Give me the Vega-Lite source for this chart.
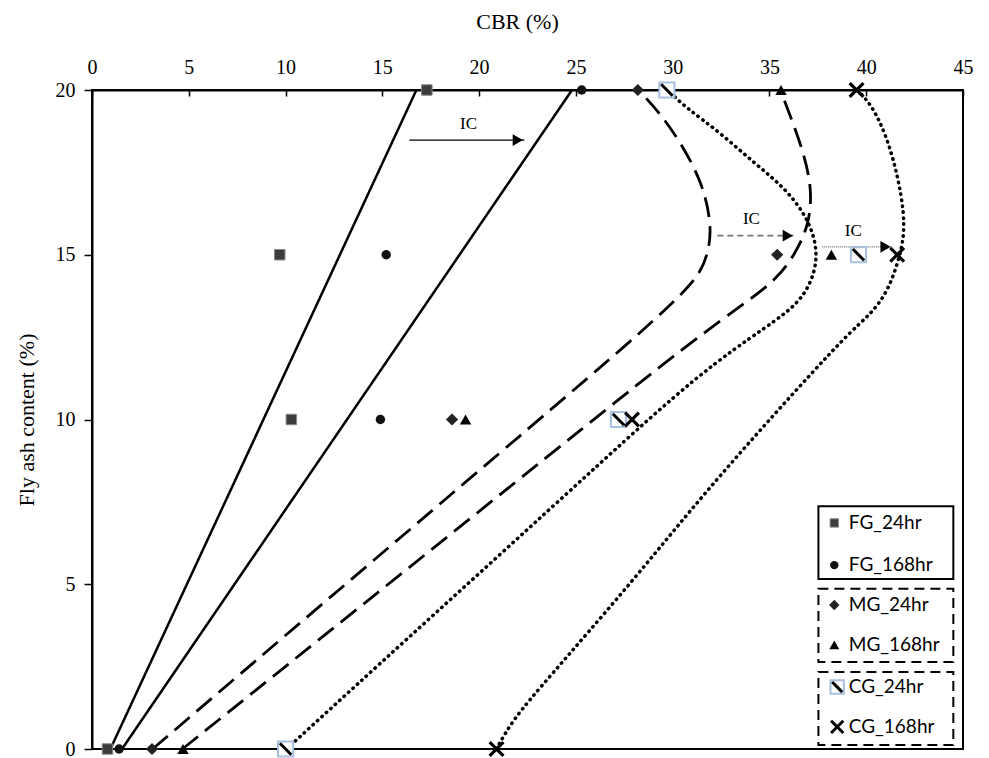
{
  "$schema": "https://vega.github.io/schema/vega-lite/v6.json",
  "width": 871,
  "height": 659,
  "autosize": {"type": "none"},
  "padding": {"left": 92, "top": 90, "right": 26, "bottom": 9},
  "background": "white",
  "config": {
    "view": {"stroke": "black", "strokeWidth": 2},
    "axis": {
      "labelFont": "Liberation Serif",
      "labelFontSize": 20,
      "labelColor": "black",
      "titleFont": "Liberation Serif",
      "titleFontSize": 22,
      "titleFontWeight": "normal",
      "titleColor": "black",
      "domainColor": "black",
      "domainWidth": 2,
      "tickColor": "black",
      "tickWidth": 1.5,
      "grid": false
    }
  },
  "datasets": {
    "points": [
      {"s": "FG_24", "x": 0.8, "y": 0}, {"s": "FG_24", "x": 10.3, "y": 10}, {"s": "FG_24", "x": 9.7, "y": 15}, {"s": "FG_24", "x": 17.3, "y": 20},
      {"s": "FG_168", "x": 1.4, "y": 0}, {"s": "FG_168", "x": 14.9, "y": 10}, {"s": "FG_168", "x": 15.2, "y": 15}, {"s": "FG_168", "x": 25.3, "y": 20},
      {"s": "MG_24", "x": 3.1, "y": 0}, {"s": "MG_24", "x": 18.6, "y": 10}, {"s": "MG_24", "x": 35.4, "y": 15}, {"s": "MG_24", "x": 28.2, "y": 20},
      {"s": "MG_168", "x": 4.7, "y": 0}, {"s": "MG_168", "x": 19.3, "y": 10}, {"s": "MG_168", "x": 38.2, "y": 15}, {"s": "MG_168", "x": 35.6, "y": 20},
      {"s": "CG_24", "x": 10.0, "y": 0}, {"s": "CG_24", "x": 27.2, "y": 10}, {"s": "CG_24", "x": 39.6, "y": 15}, {"s": "CG_24", "x": 29.7, "y": 20},
      {"s": "CG_168", "x": 20.9, "y": 0}, {"s": "CG_168", "x": 27.9, "y": 10}, {"s": "CG_168", "x": 41.6, "y": 15}, {"s": "CG_168", "x": 39.5, "y": 20}
    ],
    "curves": [
      {"s": "FG_24", "i": 0, "x": 0.95, "y": 0}, {"s": "FG_24", "i": 1, "x": 16.76, "y": 20},
      {"s": "FG_168", "i": 0, "x": 1.55, "y": 0}, {"s": "FG_168", "i": 1, "x": 24.8, "y": 20},
      {"s": "MG_24", "i": 0, "x": 3.13, "y": 0}, {"s": "MG_24", "i": 1, "x": 8.1, "y": 2.5}, {"s": "MG_24", "i": 2, "x": 15.5, "y": 6.2},
      {"s": "MG_24", "i": 3, "x": 22.9, "y": 9.9}, {"s": "MG_24", "i": 4, "x": 27.92, "y": 12.41}, {"s": "MG_24", "i": 5, "x": 30.45, "y": 13.78},
      {"s": "MG_24", "i": 6, "x": 31.5, "y": 14.48}, {"s": "MG_24", "i": 7, "x": 31.95, "y": 15.3}, {"s": "MG_24", "i": 8, "x": 31.95, "y": 16.12},
      {"s": "MG_24", "i": 9, "x": 31.5, "y": 17.21}, {"s": "MG_24", "i": 10, "x": 30.5, "y": 18.33}, {"s": "MG_24", "i": 11, "x": 29.31, "y": 19.33},
      {"s": "MG_24", "i": 12, "x": 28.23, "y": 20},
      {"s": "MG_168", "i": 0, "x": 4.67, "y": 0}, {"s": "MG_168", "i": 1, "x": 9.9, "y": 2.46}, {"s": "MG_168", "i": 2, "x": 17.77, "y": 6.16},
      {"s": "MG_168", "i": 3, "x": 25.6, "y": 9.85}, {"s": "MG_168", "i": 4, "x": 30.86, "y": 12.32},
      {"s": "MG_168", "i": 5, "x": 34.12, "y": 13.69}, {"s": "MG_168", "i": 6, "x": 35.4, "y": 14.29}, {"s": "MG_168", "i": 7, "x": 36.3, "y": 14.99},
      {"s": "MG_168", "i": 8, "x": 37.05, "y": 15.9}, {"s": "MG_168", "i": 9, "x": 37.2, "y": 16.97}, {"s": "MG_168", "i": 10, "x": 36.8, "y": 18.03},
      {"s": "MG_168", "i": 11, "x": 36.2, "y": 19.03}, {"s": "MG_168", "i": 12, "x": 35.56, "y": 20},
      {"s": "CG_24", "i": 0, "x": 10.05, "y": 0}, {"s": "CG_24", "i": 1, "x": 14.7, "y": 2.5}, {"s": "CG_24", "i": 2, "x": 20.7, "y": 5.7},
      {"s": "CG_24", "i": 3, "x": 26.3, "y": 8.7}, {"s": "CG_24", "i": 4, "x": 31.38, "y": 11.41},
      {"s": "CG_24", "i": 5, "x": 34.99, "y": 12.87}, {"s": "CG_24", "i": 6, "x": 36.4, "y": 13.47}, {"s": "CG_24", "i": 7, "x": 37.2, "y": 14.17},
      {"s": "CG_24", "i": 8, "x": 37.55, "y": 15.08}, {"s": "CG_24", "i": 9, "x": 37.0, "y": 16.12}, {"s": "CG_24", "i": 10, "x": 35.75, "y": 17.06},
      {"s": "CG_24", "i": 11, "x": 34.22, "y": 17.78}, {"s": "CG_24", "i": 12, "x": 32.41, "y": 18.73}, {"s": "CG_24", "i": 13, "x": 30.71, "y": 19.45},
      {"s": "CG_24", "i": 14, "x": 29.73, "y": 20},
      {"s": "CG_168", "i": 0, "x": 20.89, "y": 0}, {"s": "CG_168", "i": 1, "x": 21.75, "y": 0.9}, {"s": "CG_168", "i": 2, "x": 23.5, "y": 2.1},
      {"s": "CG_168", "i": 3, "x": 27.8, "y": 5.0}, {"s": "CG_168", "i": 4, "x": 31.4, "y": 7.6}, {"s": "CG_168", "i": 5, "x": 35.3, "y": 10.2},
      {"s": "CG_168", "i": 6, "x": 39.13, "y": 12.66},
      {"s": "CG_168", "i": 7, "x": 40.2, "y": 13.17}, {"s": "CG_168", "i": 8, "x": 41.1, "y": 13.87}, {"s": "CG_168", "i": 9, "x": 41.65, "y": 14.78},
      {"s": "CG_168", "i": 10, "x": 41.95, "y": 15.51}, {"s": "CG_168", "i": 11, "x": 41.95, "y": 16.3}, {"s": "CG_168", "i": 12, "x": 41.65, "y": 17.33},
      {"s": "CG_168", "i": 13, "x": 41.1, "y": 18.54}, {"s": "CG_168", "i": 14, "x": 40.3, "y": 19.54}, {"s": "CG_168", "i": 15, "x": 39.54, "y": 20}
    ],
    "arrows": [
      {"a": "FG", "x": 16.4, "x2": 22.34, "y": 18.48, "hx": 22.0, "tx": 19.45, "ty": 18.7},
      {"a": "MG", "x": 32.31, "x2": 36.29, "y": 15.58, "hx": 35.95, "tx": 34.07, "ty": 15.8},
      {"a": "CG", "x": 37.73, "x2": 41.34, "y": 15.24, "hx": 41.0, "tx": 39.33, "ty": 15.45}
    ],
    "boxes": [
      {"g": "FG", "x": 37.53, "x2": 44.5, "y": 7.37, "y2": 5.16},
      {"g": "MG", "x": 37.53, "x2": 44.5, "y": 4.86, "y2": 2.64},
      {"g": "CG", "x": 37.53, "x2": 44.5, "y": 2.34, "y2": 0.12}
    ],
    "legend": [
      {"s": "FG_24", "label": "FG_24hr", "x": 38.35, "tx": 39.1, "y": 6.86},
      {"s": "FG_168", "label": "FG_168hr", "x": 38.35, "tx": 39.1, "y": 5.58},
      {"s": "MG_24", "label": "MG_24hr", "x": 38.35, "tx": 39.1, "y": 4.37},
      {"s": "MG_168", "label": "MG_168hr", "x": 38.35, "tx": 39.1, "y": 3.16},
      {"s": "CG_24", "label": "CG_24hr", "x": 38.5, "tx": 39.1, "y": 1.88},
      {"s": "CG_168", "label": "CG_168hr", "x": 38.5, "tx": 39.1, "y": 0.67}
    ]
  },
  "encoding": {
    "x": {
      "field": "x", "type": "quantitative",
      "scale": {"domain": [0, 45], "nice": false, "zero": false},
      "axis": {"orient": "top", "title": "CBR (%)", "titleX": 425, "values": [0, 5, 10, 15, 20, 25, 30, 35, 40, 45], "tickSize": -6, "labelPadding": 19, "titlePadding": 24, "labelFlush": false}
    },
    "y": {
      "field": "y", "type": "quantitative",
      "scale": {"domain": [0, 20], "nice": false, "zero": false},
      "axis": {"title": "Fly ash content (%)", "values": [0, 5, 10, 15, 20], "tickSize": 8, "labelPadding": 9, "titlePadding": 17, "labelFlush": false}
    }
  },
  "layer": [
    {
      "data": {"name": "boxes"},
      "transform": [{"filter": {"field": "g", "equal": "FG"}}],
      "mark": {"type": "rect", "fill": "white", "stroke": "black", "strokeWidth": 2},
      "encoding": {"x2": {"field": "x2"}, "y2": {"field": "y2"}}
    },
    {
      "data": {"name": "boxes"},
      "transform": [{"filter": {"field": "g", "oneOf": ["MG", "CG"]}}],
      "mark": {"type": "rect", "fill": "white", "stroke": "black", "strokeWidth": 2, "strokeDash": [10, 6]},
      "encoding": {"x2": {"field": "x2"}, "y2": {"field": "y2"}}
    },
    {
      "data": {"name": "curves"},
      "transform": [{"filter": {"field": "s", "oneOf": ["FG_24", "FG_168"]}}],
      "mark": {"type": "line", "color": "black", "strokeWidth": 2.5},
      "encoding": {"detail": {"field": "s"}, "order": {"field": "i"}}
    },
    {
      "data": {"name": "curves"},
      "transform": [{"filter": {"field": "s", "oneOf": ["MG_24", "MG_168"]}}],
      "mark": {"type": "line", "color": "black", "strokeWidth": 2.8, "strokeDash": [20, 9], "interpolate": "basis"},
      "encoding": {"detail": {"field": "s"}, "order": {"field": "i"}}
    },
    {
      "data": {"name": "curves"},
      "transform": [{"filter": {"field": "s", "oneOf": ["CG_24", "CG_168"]}}],
      "mark": {"type": "line", "color": "black", "strokeWidth": 3.5, "strokeDash": [0.5, 5.5], "strokeCap": "round", "interpolate": "basis"},
      "encoding": {"detail": {"field": "s"}, "order": {"field": "i"}}
    },
    {
      "data": {"name": "arrows"},
      "transform": [{"filter": {"field": "a", "equal": "FG"}}],
      "mark": {"type": "rule", "color": "black", "strokeWidth": 1.3},
      "encoding": {"x2": {"field": "x2"}}
    },
    {
      "data": {"name": "arrows"},
      "transform": [{"filter": {"field": "a", "equal": "MG"}}],
      "mark": {"type": "rule", "color": "#777777", "strokeWidth": 1.6, "strokeDash": [6, 4]},
      "encoding": {"x2": {"field": "x2"}}
    },
    {
      "data": {"name": "arrows"},
      "transform": [{"filter": {"field": "a", "equal": "CG"}}],
      "mark": {"type": "rule", "color": "#666666", "strokeWidth": 1.2, "strokeDash": [1, 1]},
      "encoding": {"x2": {"field": "x2"}}
    },
    {
      "data": {"name": "arrows"},
      "mark": {"type": "point", "shape": "triangle-right", "filled": true, "color": "black", "size": 140, "opacity": 1},
      "encoding": {"x": {"field": "hx", "type": "quantitative"}}
    },
    {
      "data": {"name": "arrows"},
      "mark": {"type": "text", "font": "Liberation Serif", "fontSize": 17, "color": "black", "baseline": "bottom"},
      "encoding": {"x": {"field": "tx", "type": "quantitative"}, "y": {"field": "ty", "type": "quantitative"}, "text": {"value": "IC"}}
    },
    {
      "data": {"name": "points"},
      "transform": [{"filter": {"field": "s", "equal": "FG_24"}}],
      "mark": {"type": "point", "shape": "square", "filled": true, "fill": "#3c3c3c", "stroke": "#8a8a8a", "strokeWidth": 1, "size": 110, "opacity": 1}
    },
    {
      "data": {"name": "points"},
      "transform": [{"filter": {"field": "s", "equal": "FG_168"}}],
      "mark": {"type": "point", "shape": "circle", "filled": true, "color": "#111111", "size": 90, "opacity": 1}
    },
    {
      "data": {"name": "points"},
      "transform": [{"filter": {"field": "s", "equal": "MG_24"}}],
      "mark": {"type": "point", "shape": "diamond", "filled": true, "color": "#222222", "size": 150, "opacity": 1}
    },
    {
      "data": {"name": "points"},
      "transform": [{"filter": {"field": "s", "equal": "MG_168"}}],
      "mark": {"type": "point", "shape": "triangle-up", "filled": true, "color": "black", "size": 130, "opacity": 1}
    },
    {
      "data": {"name": "points"},
      "transform": [{"filter": {"field": "s", "equal": "CG_24"}}],
      "mark": {"type": "point", "shape": "square", "filled": true, "fill": "white", "stroke": "#a9bfe0", "strokeWidth": 2, "size": 230, "opacity": 1}
    },
    {
      "data": {"name": "points"},
      "transform": [{"filter": {"field": "s", "equal": "CG_24"}}],
      "mark": {"type": "point", "shape": "M-0.75,-0.75L0.75,0.75", "filled": false, "stroke": "black", "strokeWidth": 3, "size": 230, "opacity": 1}
    },
    {
      "data": {"name": "points"},
      "transform": [{"filter": {"field": "s", "equal": "CG_168"}}],
      "mark": {"type": "point", "shape": "M-1,-1L1,1M-1,1L1,-1", "filled": false, "stroke": "black", "strokeWidth": 3.2, "size": 190, "opacity": 1}
    },
    {
      "data": {"name": "legend"},
      "transform": [{"filter": {"field": "s", "equal": "FG_24"}}],
      "mark": {"type": "point", "shape": "square", "filled": true, "fill": "#3c3c3c", "stroke": "#8a8a8a", "strokeWidth": 1, "size": 70, "opacity": 1}
    },
    {
      "data": {"name": "legend"},
      "transform": [{"filter": {"field": "s", "equal": "FG_168"}}],
      "mark": {"type": "point", "shape": "circle", "filled": true, "color": "#111111", "size": 70, "opacity": 1}
    },
    {
      "data": {"name": "legend"},
      "transform": [{"filter": {"field": "s", "equal": "MG_24"}}],
      "mark": {"type": "point", "shape": "diamond", "filled": true, "color": "#222222", "size": 110, "opacity": 1}
    },
    {
      "data": {"name": "legend"},
      "transform": [{"filter": {"field": "s", "equal": "MG_168"}}],
      "mark": {"type": "point", "shape": "triangle-up", "filled": true, "color": "black", "size": 100, "opacity": 1}
    },
    {
      "data": {"name": "legend"},
      "transform": [{"filter": {"field": "s", "equal": "CG_24"}}],
      "mark": {"type": "point", "shape": "square", "filled": true, "fill": "white", "stroke": "#a9bfe0", "strokeWidth": 2, "size": 180, "opacity": 1}
    },
    {
      "data": {"name": "legend"},
      "transform": [{"filter": {"field": "s", "equal": "CG_24"}}],
      "mark": {"type": "point", "shape": "M-0.75,-0.75L0.75,0.75", "filled": false, "stroke": "black", "strokeWidth": 3, "size": 180, "opacity": 1}
    },
    {
      "data": {"name": "legend"},
      "transform": [{"filter": {"field": "s", "equal": "CG_168"}}],
      "mark": {"type": "point", "shape": "M-1,-1L1,1M-1,1L1,-1", "filled": false, "stroke": "black", "strokeWidth": 3, "size": 150, "opacity": 1}
    },
    {
      "data": {"name": "legend"},
      "mark": {"type": "text", "font": "Lato", "fontSize": 19, "color": "black", "align": "left", "baseline": "middle"},
      "encoding": {"x": {"field": "tx", "type": "quantitative"}, "text": {"field": "label"}}
    }
  ]
}
